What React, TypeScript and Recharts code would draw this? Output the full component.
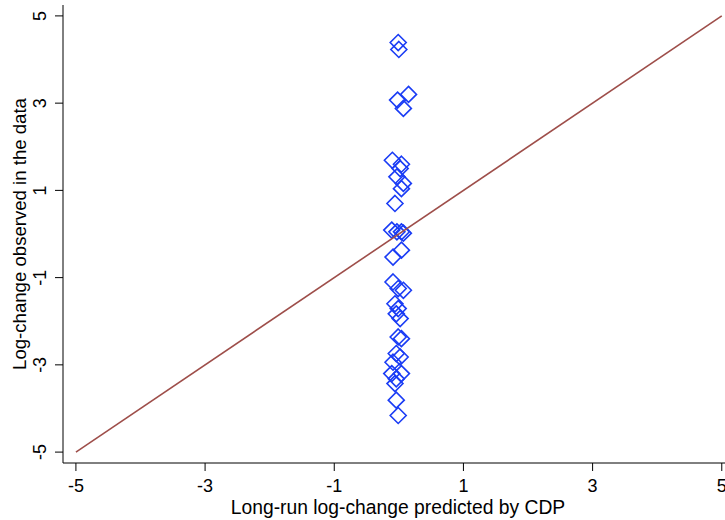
import { ScatterChart, Scatter, XAxis, YAxis } from "recharts";

const obsX = [
  -0.01, 0.0, -0.02, 0.15, 0.07, -0.1, 0.04, 0.02, -0.03, 0.07, 0.04, -0.06,
  -0.11, -0.03, 0.04, 0.07, -0.09, 0.04, -0.09, -0.01, 0.07, -0.06, -0.01, -0.04,
  0.02, -0.01, 0.04, -0.04, 0.02, -0.09, -0.11, 0.04, -0.04, -0.06, -0.04, -0.01,
];
const obsY = [
  4.39, 4.23, 3.07, 3.2, 2.88, 1.69, 1.6, 1.5, 1.31, 1.16, 1.04, 0.7,
  0.09, 0.05, 0.05, 0.02, -0.53, -0.37, -1.1, -1.25, -1.29, -1.6, -1.71, -1.83,
  -1.94, -2.36, -2.4, -2.74, -2.82, -2.94, -3.2, -3.2, -3.32, -3.43, -3.81, -4.16,
];
const fitX = [-5, 5];
const fitY = [-5, 5];
const ticks = [-5, -3, -1, 1, 3, 5];

const points = obsX.map((x, i) => ({ x, y: obsY[i] }));
const fitLine = fitX.map((x, i) => ({ x, y: fitY[i] }));

const font = "'Liberation Sans', Arial, Helvetica, sans-serif";

const Diamond = (props: any) => {
  const { cx, cy } = props;
  const r = 8;
  return (
    <path
      d={`M${cx},${cy - r}L${cx + r},${cy}L${cx},${cy + r}L${cx - r},${cy}Z`}
      fill="none"
      stroke="#1a3cf5"
      strokeWidth={1.6}
    />
  );
};

const NoDot = () => <g />;

const XTick = (props: any) => {
  const { x, y, payload } = props;
  return (
    <text x={x} y={y} dy="0.71em" textAnchor="middle" fill="#000" fontSize={18} fontFamily={font}>
      {payload.value}
    </text>
  );
};

const YTick = (props: any) => {
  const { y, payload } = props;
  const cx = 40;
  return (
    <text
      x={cx}
      y={y}
      transform={`rotate(-90, ${cx}, ${y})`}
      textAnchor="middle"
      dominantBaseline="central"
      fill="#000"
      fontSize={18}
      fontFamily={font}
    >
      {payload.value}
    </text>
  );
};

export default function App() {
  return (
    <div style={{ position: "absolute", left: 0, top: 0, background: "#fff" }}>
      <ScatterChart width={725} height={520} margin={{ top: 5, right: 0, bottom: 0, left: 0 }}>
        <XAxis
          type="number"
          dataKey="x"
          domain={[-5.2, 5.05]}
          ticks={ticks}
          interval={0}
          allowDataOverflow
          height={57}
          tickSize={8}
          tickMargin={8}
          stroke="#000"
          tick={<XTick />}
          label={{
            content: (p: any) => {
              const vb = p.viewBox;
              return (
                <text
                  x={vb.x + vb.width / 2 + 4}
                  y={514}
                  textAnchor="middle"
                  fill="#000"
                  fontSize={19.3}
                  fontFamily={font}
                >
                  Long-run log-change predicted by CDP
                </text>
              );
            },
          }}
        />
        <YAxis
          type="number"
          dataKey="y"
          domain={[-5.25, 5.25]}
          ticks={ticks}
          interval={0}
          allowDataOverflow
          width={63}
          tickSize={8}
          stroke="#000"
          tick={<YTick />}
          label={{
            content: (p: any) => {
              const vb = p.viewBox;
              const cy = vb.y + vb.height / 2;
              return (
                <text
                  x={19}
                  y={cy}
                  transform={`rotate(-90, 19, ${cy})`}
                  textAnchor="middle"
                  dominantBaseline="central"
                  fill="#000"
                  fontSize={18.6}
                  fontFamily={font}
                >
                  Log-change observed in the data
                </text>
              );
            },
          }}
        />
        <Scatter data={points} shape={<Diamond />} isAnimationActive={false} />
        <Scatter
          data={fitLine}
          line={{ stroke: "#9e4e4a", strokeWidth: 1.6 }}
          shape={<NoDot />}
          isAnimationActive={false}
        />
      </ScatterChart>
    </div>
  );
}
